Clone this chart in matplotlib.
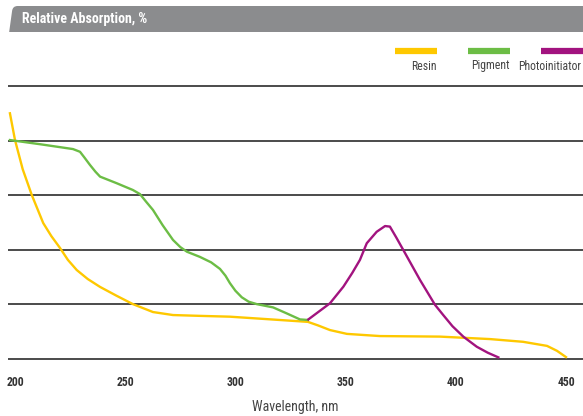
import matplotlib.pyplot as plt
from matplotlib.patches import PathPatch
from matplotlib.path import Path

# absorption spectra, wavelength in nm, relative absorption in %
resin_nm = [197.7, 200.0, 203.5, 207.6, 212.8, 216.5, 220.4, 224.0, 228.0, 233.0, 238.6,
            246.0, 253.5, 262.6, 271.7, 283.9, 297.5, 312.5, 332.9, 337.5, 342.9,
            350.6, 365.6, 392.8, 415.5, 430.5, 441.4, 445.9, 450.0]
resin_val = [90.0, 80.2, 69.5, 60.1, 49.8, 45.0, 40.7, 36.3, 32.6, 29.3, 26.4,
             23.2, 20.1, 17.2, 16.1, 15.8, 15.5, 14.7, 13.6, 12.3, 10.6,
             9.2, 8.4, 8.2, 7.3, 6.3, 4.8, 3.0, 0.7]

pigment_nm = [197.7, 212.0, 226.3, 229.5, 231.5, 234.0, 236.5, 238.6, 246.1, 253.5, 256.7,
              259.5, 262.6, 267.0, 271.7, 275.0, 278.0, 283.9, 289.0, 293.0, 295.5,
              297.5, 300.0, 302.9, 306.0, 309.7, 317.1, 323.3, 329.3, 332.9]
pigment_val = [80.2, 78.6, 76.9, 75.9, 73.8, 71.1, 68.6, 66.8, 64.4, 61.9, 60.4,
               57.6, 54.6, 49.0, 43.6, 41.0, 39.3, 37.4, 35.4, 33.0, 30.5,
               27.8, 25.0, 22.6, 21.0, 20.1, 18.9, 16.7, 14.5, 14.3]

photo_nm = [333.1, 342.9, 349.0, 353.0, 356.5, 359.6, 364.1, 367.9, 370.1, 373.0,
            376.2, 383.8, 390.6, 394.3, 398.5, 403.4, 409.5, 414.5, 419.3]
photo_val = [14.5, 20.4, 26.5, 31.5, 36.3, 42.4, 46.6, 48.7, 48.5, 44.5,
             39.9, 28.9, 19.8, 16.1, 12.0, 8.2, 4.5, 2.3, 0.6]

x_ticks = [200, 250, 300, 350, 400, 450]
y_grid = [0, 20, 40, 60, 80, 100]

series_names = ['Resin', 'Pigment', 'Photoinitiator']
series_colors = ['#fec800', '#6cbd45', '#a2137f']

plt.rcParams['font.family'] = ['Roboto Condensed', 'DejaVu Sans']

W, H = 583, 416
fig = plt.figure(figsize=(W / 100, H / 100), dpi=100)

# axes box in pixels: x 8..583, y 80..362
ax = fig.add_axes([8 / W, 1 - 362 / H, 575 / W, 282 / H])
px_per_nm = 551 / 250
ax.set_xlim(200 - 7 / px_per_nm, 200 + 568 / px_per_nm)
px_per_unit = 273 / 100
ax.set_ylim(-3 / px_per_unit, 100 + 6 / px_per_unit)

for v in y_grid:
    ax.axhline(v, color='#1a1a1a', lw=1.1, zorder=1)

ax.plot(resin_nm, resin_val, color=series_colors[0], lw=1.7, zorder=3)
ax.plot(pigment_nm, pigment_val, color=series_colors[1], lw=1.7, zorder=3)
ax.plot(photo_nm, photo_val, color=series_colors[2], lw=1.7, zorder=4)

for s in ax.spines.values():
    s.set_visible(False)
ax.set_yticks([])
ax.set_xticks(x_ticks)
ax.set_xticklabels([str(t) for t in x_ticks], fontsize=8.5, fontweight='bold', color='#333333')
ax.tick_params(axis='x', length=0, pad=10)
ax.set_xlabel('Wavelength, nm', fontsize=10, color='#444444', va='center')
ax.xaxis.set_label_coords(0.5, (362 - 407) / 282)

# header bar with a rounded left corner
x0, x1 = 8 / W, 1.0
yb, yt = 1 - 32 / H, 1 - 6 / H
r = 5 / W
verts = [(x0 + 0.002, yb), (x1, yb), (x1, yt), (x0 + r + 0.008, yt),
         (x0 + 0.008, yt), (x0 + 0.007, yt - 5 / H), (x0 + 0.002, yb)]
codes = [Path.MOVETO, Path.LINETO, Path.LINETO, Path.LINETO,
         Path.CURVE3, Path.CURVE3, Path.LINETO]
fig.patches.append(PathPatch(Path(verts, codes), transform=fig.transFigure,
                             facecolor='#8b8c8e', edgecolor='none'))
fig.text(22 / W, 1 - 19.5 / H, 'Relative Absorption, %', color='white',
         fontsize=10, fontweight='bold', va='center', ha='left')

# legend: colour bar with the name below it
bar_left = [395, 468, 541]
bar_right = [437, 510, 583]
for name, c, l, rgt in zip(series_names, series_colors, bar_left, bar_right):
    fig.add_artist(plt.Line2D([l / W, rgt / W], [1 - 51 / H, 1 - 51 / H],
                              color=c, lw=4.5, solid_capstyle='butt',
                              transform=fig.transFigure))
    fig.text(min(rgt, 581) / W, 1 - 66 / H, name, fontsize=8.5, color='#444444',
             ha='right', va='center')

fig.savefig('out.png', dpi=100)
